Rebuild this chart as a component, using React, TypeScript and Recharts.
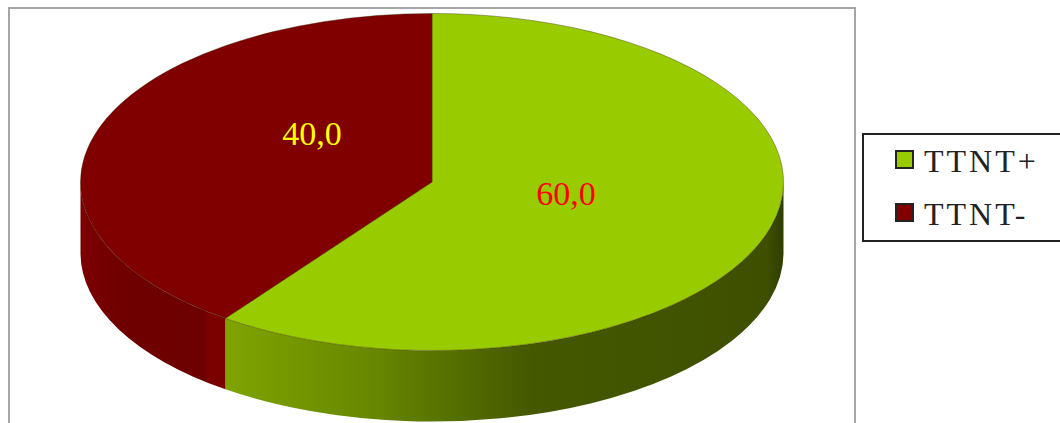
import React from 'react';
import { PieChart, Pie, Legend } from 'recharts';

const categories = ['TTNT+', 'TTNT-'];
const values = [60, 40];
const valueLabels = ['60,0', '40,0'];
const colors = ['#99cc00', '#800000'];
const labelColors = ['#ff0000', '#ffff00'];
const wallFills = ['url(#wallGreen)', 'url(#wallRed)'];
// hand placed labels, offset from the pie centre
const labelOffsets = [
  { dx: 134, dy: 23 },
  { dx: -120, dy: -37 },
];

const data = categories.map((name, i) => ({ name, value: values[i], fill: colors[i] }));

const FONT = '"Liberation Serif", "Times New Roman", serif';
const SQUASH = 168.5 / 351.5; // flattening of the pie's top face
const DEPTH = 71;

const rad = (a: number) => (a * Math.PI) / 180;

// Sector drawn as an ellipse with a wall underneath, to fake the 3D look
const Sector3D = (props: any) => {
  const { cx, cy, outerRadius: rx, startAngle, endAngle, index } = props;
  const ry = rx * SQUASH;
  const px = (a: number) => cx + rx * Math.cos(rad(a));
  const py = (a: number) => cy - ry * Math.sin(rad(a));
  const hi = Math.min(startAngle, 0);
  const lo = Math.max(endAngle, -180);
  const large = Math.abs(startAngle - endAngle) > 180 ? 1 : 0;
  const top = `M${cx},${cy} L${px(startAngle)},${py(startAngle)} A${rx},${ry} 0 ${large} 1 ${px(endAngle)},${py(endAngle)} Z`;
  const wall = `M${px(hi)},${py(hi)} A${rx},${ry} 0 0 1 ${px(lo)},${py(lo)} L${px(lo)},${py(lo) + DEPTH} A${rx},${ry} 0 0 0 ${px(hi)},${py(hi) + DEPTH} Z`;
  return (
    <g>
      <path d={wall} fill={wallFills[index]} />
      <path d={top} fill={colors[index]} stroke="#3a2a00" strokeOpacity={0.4} strokeWidth={1} />
    </g>
  );
};

const renderLabel = (props: any) => {
  const { cx, cy, index } = props;
  const off = labelOffsets[index];
  return (
    <text
      x={cx + off.dx}
      y={cy + off.dy}
      textAnchor="middle"
      fill={labelColors[index]}
      fontFamily={FONT}
      fontSize={34}
    >
      {valueLabels[index]}
    </text>
  );
};

const LegendBox = ({ payload }: any) => (
  <div
    style={{
      boxSizing: 'border-box',
      width: 210,
      height: 109,
      border: '2px solid #222',
      background: '#fff',
      position: 'relative',
    }}
  >
    {(payload || []).map((entry: any, i: number) => (
      <div key={entry.value}>
        <div
          style={{
            position: 'absolute',
            left: 31,
            top: 15 + i * 53,
            width: 15,
            height: 15,
            border: '2px solid #222',
            background: colors[i],
          }}
        />
        <div
          style={{
            position: 'absolute',
            left: 60,
            top: 8 + i * 53,
            fontFamily: FONT,
            fontSize: 32,
            lineHeight: '37px',
            letterSpacing: 3,
            color: '#222',
            whiteSpace: 'nowrap',
          }}
        >
          {entry.value}
        </div>
      </div>
    ))}
  </div>
);

export default function App() {
  return (
    <div style={{ position: 'fixed', left: 0, top: 0, width: 1060, height: 423, overflow: 'hidden', background: '#fff' }}>
      <div
        style={{
          position: 'absolute',
          left: 8,
          top: 7,
          width: 844,
          height: 430,
          border: '2px solid #a6a6a6',
        }}
      />
      <div style={{ position: 'absolute', left: 0, top: 0 }}>
        <PieChart width={1060} height={423} margin={{ top: 0, right: 0, bottom: 0, left: 0 }}>
          <defs>
            <linearGradient id="wallGreen" gradientUnits="userSpaceOnUse" x1="226" y1="0" x2="783" y2="0">
              <stop offset="0%" stopColor="#7fa300" />
              <stop offset="25%" stopColor="#698900" />
              <stop offset="55%" stopColor="#445800" />
              <stop offset="97%" stopColor="#3e5000" />
              <stop offset="100%" stopColor="#303e00" />
            </linearGradient>
            <linearGradient id="wallRed" gradientUnits="userSpaceOnUse" x1="80" y1="0" x2="226" y2="0">
              <stop offset="0%" stopColor="#7d0000" />
              <stop offset="25%" stopColor="#700000" />
              <stop offset="85%" stopColor="#6c0000" />
              <stop offset="88%" stopColor="#7c0000" />
              <stop offset="100%" stopColor="#7a0000" />
            </linearGradient>
          </defs>
          <Pie
            data={data}
            dataKey="value"
            nameKey="name"
            cx={432}
            cy={182}
            innerRadius={0}
            outerRadius={351.5}
            startAngle={90}
            endAngle={-270}
            shape={Sector3D}
            label={renderLabel}
            labelLine={false}
            isAnimationActive={false}
          />
          <Legend
            content={<LegendBox />}
            layout="vertical"
            wrapperStyle={{ left: 862, top: 133, width: 210, height: 109 }}
          />
        </PieChart>
      </div>
    </div>
  );
}
